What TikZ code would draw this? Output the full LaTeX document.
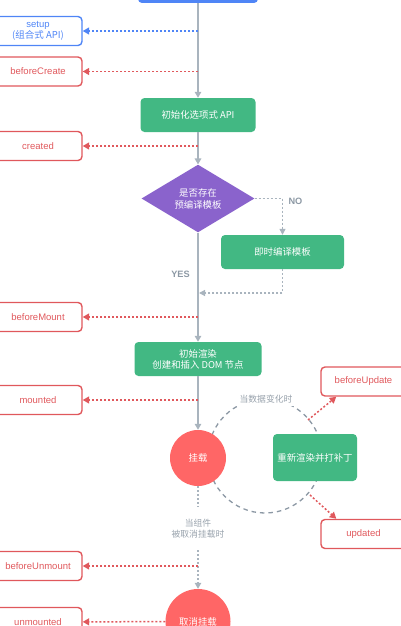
\documentclass[tikz,border=0pt]{standalone}
\usepackage{fontspec}
\setmainfont{Liberation Sans}
\newfontfamily\cjk{Noto Sans CJK SC}
\usepackage{tikz}
\usepackage{xcolor}
\usetikzlibrary{arrows.meta,shapes.geometric}
\definecolor{vueblue}{HTML}{4F85F6}
\definecolor{vuegreen}{HTML}{42B883}
\definecolor{vuepurple}{HTML}{8A63CC}
\definecolor{hookred}{HTML}{E0585C}
\definecolor{circred}{HTML}{FF6666}
\definecolor{flowgray}{HTML}{A9B4BE}
\definecolor{loopgray}{HTML}{8C98A4}
\definecolor{notegray}{HTML}{98A2AC}

\begin{document}
\begin{tikzpicture}[x=1pt,y=-1pt,
                hook/.style={draw=#1, text=#1, line width=1.4pt, rounded corners=4pt, minimum width=88pt, minimum height=29pt, inner sep=0pt, align=center, font=\fontsize{9.5}{10.5}\selectfont},
                hook/.default=hookred,
                step box/.style={fill=vuegreen, text=white, rounded corners=4pt, inner sep=0pt, align=center, font=\cjk\fontsize{9.4}{11}\selectfont},
                ball/.style={circle, fill=circred, text=white, inner sep=0pt, font=\cjk\fontsize{9.4}{11}\selectfont},
                flow/.style={draw=flowgray, line width=1.6pt, -{Triangle[length=6pt,width=6.5pt]}},
                hookline/.style={draw=#1, line width=1.5pt, dash pattern=on 2pt off 2pt, -{Triangle[length=6.5pt,width=7pt]}},
                hookline/.default=hookred,
                grayline/.style={draw=flowgray, line width=1.2pt, dash pattern=on 2pt off 2pt},
                note/.style={text=notegray, align=center, inner sep=0pt, font=\cjk\fontsize{8.8}{11}\selectfont},
                answer/.style={text=loopgray, font=\bfseries\fontsize{9.2}{10}\selectfont}]
                \useasboundingbox (0,0) rectangle (400,626);
                \draw[loopgray, line width=1.3pt, dash pattern=on 4.5pt off 4pt] (265,456) circle[radius=57pt];
                \node[fill=vueblue, rounded corners=4pt, minimum width=120pt, minimum height=23pt] (start) at (198,-8.5) {};
                \node[hook=vueblue] (setup) at (38,31) {setup\\{\cjk (组合式 API)}};
                \node[hook] (beforeCreate) at (38,71.5) {beforeCreate};
                \node[step box, minimum width=115pt, minimum height=34pt] (init) at (198,115) {初始化选项式 API};
                \node[hook] (created) at (38,146) {created};
                \node[diamond, fill=vuepurple, text=white, inner sep=0pt, minimum width=113pt, minimum height=61pt, align=center, font=\cjk\fontsize{9.4}{12}\selectfont] (tmpl) at (198,198.5) {是否存在\\预编译模板};
                \node[answer] (no) at (295.5,201.5) {NO};
                \node[step box, minimum width=123pt, minimum height=34pt] (jit) at (282.5,252) {即时编译模板};
                \node[answer] (yes) at (180.5,274.5) {YES};
                \node[hook] (beforeMount) at (38,317) {beforeMount};
                \node[step box, minimum width=127pt, minimum height=34pt] (render) at (198,359) {初始渲染\\创建和插入 DOM 节点};
                \node[hook] (mounted) at (38,400) {mounted};
                \node[note, fill=white, inner xsep=6pt, inner ysep=3pt] (change) at (266,399) {当数据变化时};
                \node[ball, minimum size=56pt] (mount) at (198,458) {挂载};
                \node[step box, minimum width=84pt, minimum height=47pt] (patch) at (315,457.5) {重新渲染并打补丁};
                \node[hook, minimum width=85pt] (beforeUpdate) at (363.5,381.5) {beforeUpdate};
                \node[hook, minimum width=85pt] (updated) at (363.5,534) {updated};
                \node[note, minimum height=43pt] (leave) at (198,528.5) {当组件\\被取消挂载时};
                \node[hook] (beforeUnmount) at (38,566) {beforeUnmount};
                \node[ball, minimum size=65pt] (unmount) at (198,621.5) {取消挂载};
                \node[hook] (unmounted) at (38,622) {unmounted};
                \coordinate (c-setup) at (198,31);
                \coordinate (c-bc) at (198,71.5);
                \coordinate (c-created) at (198,146);
                \coordinate (c-jit) at (199,293);
                \coordinate (c-bm) at (198,317);
                \coordinate (c-mounted) at (198,400);
                \coordinate (c-up) at (308,420);
                \coordinate (c-down) at (310,495);
                \coordinate (c-bum) at (198,566);
                \draw[flow] (start) -- (init);
                \draw[flow] (init) -- (tmpl);
                \draw[flow] (tmpl) -- (render);
                \draw[flow] (render) -- (mount);
                \draw[grayline, -{Triangle[length=6pt,width=6pt]}] (tmpl.east) -| (jit.north);
                \draw[grayline, -{Triangle[length=6pt,width=6pt]}] (jit.south) |- (c-jit);
                \draw[grayline] (mount) -- (leave);
                \draw[grayline, -{Triangle[length=6pt,width=6.5pt]}] (leave) -- (unmount);
                \draw[hookline=vueblue] (c-setup) -- (setup);
                \draw[hookline] (c-bc) -- (beforeCreate);
                \draw[hookline] (c-created) -- (created);
                \draw[hookline] (c-bm) -- (beforeMount);
                \draw[hookline] (c-mounted) -- (mounted);
                \draw[hookline] (c-up) -- ([xshift=16pt]beforeUpdate.south west);
                \draw[hookline] (c-down) -- ([xshift=16pt]updated.north west);
                \draw[hookline] (c-bum) -- (beforeUnmount);
                \draw[hookline] (unmount) -- (unmounted);
            \end{tikzpicture}
\end{document}
